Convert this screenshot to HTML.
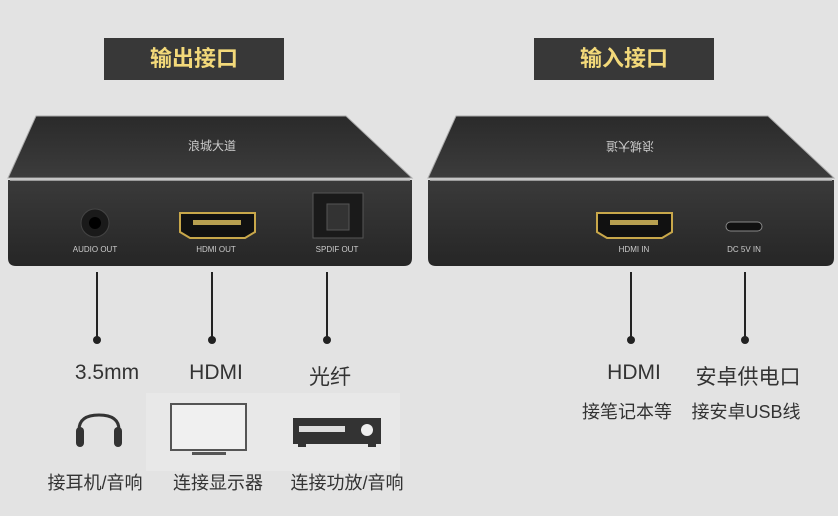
<!DOCTYPE html>
<html><head><meta charset="utf-8"><style>
body{margin:0;width:838px;height:516px;background:#e3e3e3;overflow:hidden;position:relative;font-family:"Liberation Sans","Noto Sans CJK SC",sans-serif}
.t{position:absolute;color:#333;font-size:21px;white-space:nowrap;transform:translateX(-50%)}
.s{font-size:18px}
.tag{position:absolute;background:#383838;color:#f3d97a;font-size:22px;font-weight:bold;text-align:center;line-height:42px;height:42px}
</style></head><body>
<div class="tag" style="left:104px;top:38px;width:180px">输出接口</div>
<div class="tag" style="left:534px;top:38px;width:180px">输入接口</div>
<svg width="838" height="516" style="position:absolute;left:0;top:0">
<defs>
<linearGradient id="top" x1="0" y1="0" x2="0" y2="1"><stop offset="0" stop-color="#2a2a2a"/><stop offset="1" stop-color="#3c3c3c"/></linearGradient>
<linearGradient id="fr" x1="0" y1="0" x2="0" y2="1"><stop offset="0" stop-color="#3a3a3a"/><stop offset="1" stop-color="#262626"/></linearGradient>
</defs>
<rect x="146" y="393" width="254" height="78" fill="#e8e8e8"/>
<path d="M36 116 L346 116 L412 178 L8 178 Z" fill="url(#top)" stroke="#aaa" stroke-width="1"/>
<path d="M8 180 L412 180 L412 258 Q412 266 404 266 L16 266 Q8 266 8 258 Z" fill="url(#fr)"/>
<line x1="10" y1="180" x2="410" y2="180" stroke="#bbb" stroke-width="1.5"/>
<text x="212" y="150" fill="#ccc" font-size="12" text-anchor="middle" font-family="Noto Sans CJK SC">浪城大道</text>
<circle cx="95" cy="223" r="14" fill="#1a1a1a" stroke="#444"/>
<circle cx="95" cy="223" r="6" fill="#000"/>
<path d="M180 213 L255 213 L255 232 L245 238 L190 238 L180 232 Z" fill="#111" stroke="#c8a74a" stroke-width="2"/>
<rect x="193" y="220" width="48" height="5" fill="#b8a050"/>
<rect x="313" y="193" width="50" height="45" fill="#1a1a1a" stroke="#555"/>
<rect x="327" y="204" width="22" height="26" fill="#333" stroke="#555"/>
<text x="95" y="252" fill="#ccc" font-size="8" text-anchor="middle">AUDIO OUT</text>
<text x="216" y="252" fill="#ccc" font-size="8" text-anchor="middle">HDMI OUT</text>
<text x="337" y="252" fill="#ccc" font-size="8" text-anchor="middle">SPDIF OUT</text>
<path d="M456 116 L768 116 L834 178 L428 178 Z" fill="url(#top)" stroke="#aaa" stroke-width="1"/>
<path d="M428 180 L834 180 L834 258 Q834 266 826 266 L436 266 Q428 266 428 258 Z" fill="url(#fr)"/>
<line x1="430" y1="180" x2="832" y2="180" stroke="#bbb" stroke-width="1.5"/>
<text x="630" y="150" fill="#ccc" font-size="12" text-anchor="middle" font-family="Noto Sans CJK SC" transform="rotate(180 630 146)">浪城大道</text>
<path d="M597 213 L672 213 L672 232 L662 238 L607 238 L597 232 Z" fill="#111" stroke="#c8a74a" stroke-width="2"/>
<rect x="610" y="220" width="48" height="5" fill="#b8a050"/>
<rect x="726" y="222" width="36" height="9" rx="4.5" fill="#111" stroke="#888"/>
<text x="634" y="252" fill="#ccc" font-size="8" text-anchor="middle">HDMI IN</text>
<text x="744" y="252" fill="#ccc" font-size="8" text-anchor="middle">DC 5V IN</text>
<g stroke="#222" stroke-width="2">
<line x1="97" y1="272" x2="97" y2="338"/><line x1="212" y1="272" x2="212" y2="338"/><line x1="327" y1="272" x2="327" y2="338"/>
<line x1="631" y1="272" x2="631" y2="338"/><line x1="745" y1="272" x2="745" y2="338"/>
</g>
<g fill="#222"><circle cx="97" cy="340" r="4"/><circle cx="212" cy="340" r="4"/><circle cx="327" cy="340" r="4"/><circle cx="631" cy="340" r="4"/><circle cx="745" cy="340" r="4"/></g>
<path d="M79 440 L79 430 Q79 415 99 415 Q119 415 119 430 L119 440" fill="none" stroke="#333" stroke-width="3"/>
<rect x="76" y="427" width="8" height="20" rx="4" fill="#333"/>
<rect x="114" y="427" width="8" height="20" rx="4" fill="#333"/>
<rect x="171" y="404" width="75" height="46" fill="#f0f0f0" stroke="#555" stroke-width="2"/>
<rect x="192" y="452" width="34" height="3" fill="#555"/>
<rect x="293" y="418" width="88" height="26" fill="#333"/>
<rect x="299" y="426" width="46" height="6" fill="#ddd"/>
<circle cx="367" cy="430" r="6" fill="#eee"/>
<rect x="298" y="444" width="8" height="3" fill="#333"/><rect x="368" y="444" width="8" height="3" fill="#333"/>
</svg>
<div class="t" style="left:107px;top:361px">3.5mm</div>
<div class="t" style="left:216px;top:361px">HDMI</div>
<div class="t" style="left:330px;top:361px">光纤</div>
<div class="t" style="left:634px;top:361px">HDMI</div>
<div class="t" style="left:748px;top:361px">安卓供电口</div>
<div class="t s" style="left:627px;top:398px">接笔记本等</div>
<div class="t s" style="left:746px;top:398px">接安卓USB线</div>
<div class="t s" style="left:95px;top:469px">接耳机/音响</div>
<div class="t s" style="left:218px;top:469px">连接显示器</div>
<div class="t s" style="left:347px;top:469px">连接功放/音响</div>
</body></html>
